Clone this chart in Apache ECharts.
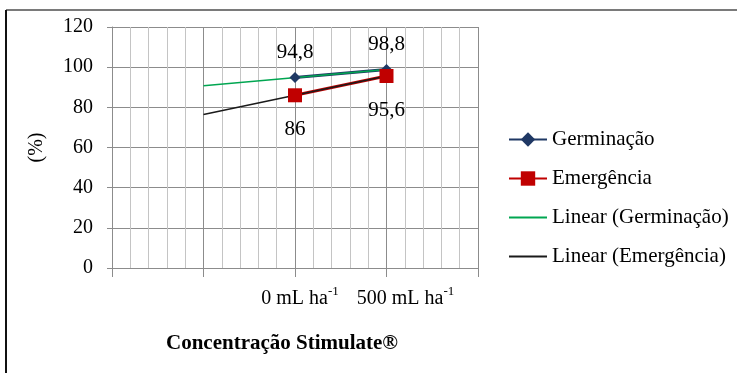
<!DOCTYPE html>
<html>
<head>
<meta charset="utf-8">
<script src="https://cdn.jsdelivr.net/npm/echarts@6/dist/echarts.min.js"></script>
<style>
html,body{margin:0;padding:0;background:#fff;}
#chart{width:737px;height:373px;}
</style>
</head>
<body>
<div id="chart"></div>
<script>
// ---- data ----
const xCategories = ['', '', '0 mL ha', '500 mL ha', ''];
const unitSup = '-1';
const yTicks = [0, 20, 40, 60, 80, 100, 120];
const dataPositions = [2, 3];
const germinacao = [94.8, 98.8];
const emergencia = [86, 95.6];
const trendPositions = [1, 3];
const trendGerminacao = [90.8, 98.8];
const trendEmergencia = [76.4, 95.6];
const seriesNames = ['Germinação', 'Emergência', 'Linear (Germinação)', 'Linear (Emergência)'];
const xTitle = 'Concentração Stimulate®';
const yTitle = '(%)';

const font = "'Liberation Serif', 'Times New Roman', serif";
const pair = (xs, ys) => xs.map((x, i) => [x, ys[i]]);
const fmt = v => String(v).replace('.', ',');

const chart = echarts.init(document.getElementById('chart'), null, {renderer: 'canvas'});
const labelPads = {2: 10, 3: 38};

chart.setOption({
  animation: false,
  backgroundColor: '#fff',
  textStyle: {fontFamily: font},
  grid: {left: 112, right: 259, top: 27, bottom: 105, containLabel: false},
  graphic: [
    {type: 'line', shape: {x1: 6, y1: 10, x2: 737, y2: 10}, style: {stroke: '#7a7a7a', lineWidth: 2}},
    {type: 'line', shape: {x1: 6, y1: 10, x2: 6, y2: 373}, style: {stroke: '#111', lineWidth: 2}}
  ],
  xAxis: {
    type: 'value', min: 0, max: xCategories.length - 1, interval: 1,
    name: xTitle, nameLocation: 'middle', nameGap: 65, nameMoveOverlap: false,
    nameTextStyle: {fontFamily: font, fontSize: 21, fontWeight: 'bold', color: '#000', padding: [0, 26, 0, 0]},
    axisLine: {show: true, lineStyle: {color: '#8c8c8c', width: 1}},
    axisTick: {show: true, length: 9, lineStyle: {color: '#8c8c8c'}},
    minorTick: {show: false, splitNumber: 5},
    splitLine: {show: true, lineStyle: {color: '#8c8c8c', width: 1}},
    minorSplitLine: {show: true, lineStyle: {color: '#c4c4c4', width: 1}},
    axisLabel: {
      margin: 17,
      formatter: v => {
        const c = xCategories[v];
        if (!c) return '';
        return '{pad' + v + '|}{m|' + c + '}{s|' + unitSup + '}';
      },
      rich: {
        m: {fontFamily: font, fontSize: 20, color: '#000', lineHeight: 24, verticalAlign: 'bottom'},
        s: {fontFamily: font, fontSize: 13, color: '#000', lineHeight: 24, verticalAlign: 'top'},
        pad2: {width: labelPads[2]},
        pad3: {width: labelPads[3]}
      }
    }
  },
  yAxis: {
    type: 'value', min: 0, max: 120, interval: 20,
    name: yTitle, nameLocation: 'middle', nameGap: 65, nameRotate: 90, nameMoveOverlap: false,
    nameTextStyle: {fontFamily: font, fontSize: 20, color: '#000'},
    axisLine: {show: true, lineStyle: {color: '#8c8c8c'}},
    axisTick: {show: true, length: 5, lineStyle: {color: '#8c8c8c'}},
    splitLine: {show: true, lineStyle: {color: '#8c8c8c', width: 1}},
    axisLabel: {margin: 19, fontFamily: font, fontSize: 20, color: '#000',
      formatter: v => yTicks.includes(v) ? String(v) : ''}
  },
  legend: {
    orient: 'vertical', left: 508, top: 129, padding: 0,
    itemWidth: 38, itemHeight: 18, itemGap: 18,
    textStyle: {fontFamily: font, fontSize: 21, color: '#000'},
    data: [
      {name: seriesNames[0]},
      {name: seriesNames[1]},
      {name: seriesNames[2], itemStyle: {opacity: 0}},
      {name: seriesNames[3], itemStyle: {opacity: 0}}
    ]
  },
  series: [
    {
      name: seriesNames[0], type: 'line', data: pair(dataPositions, germinacao),
      symbol: 'diamond', symbolSize: 11,
      lineStyle: {color: '#1f3864', width: 3},
      itemStyle: {color: '#1f3864'},
      label: {show: true, position: 'top', distance: 9, fontFamily: font, fontSize: 21, color: '#000',
        formatter: p => fmt(p.value[1])}
    },
    {
      name: seriesNames[1], type: 'line', data: pair(dataPositions, emergencia),
      symbol: 'rect', symbolSize: 14,
      lineStyle: {color: '#c00000', width: 3},
      itemStyle: {color: '#c00000'},
      label: {show: true, position: 'bottom', distance: 17, fontFamily: font, fontSize: 21, color: '#000',
        formatter: p => fmt(p.value[1])}
    },
    {
      name: seriesNames[2], type: 'line', data: pair(trendPositions, trendGerminacao),
      symbol: 'none', lineStyle: {color: '#00a651', width: 1.5}, itemStyle: {color: '#00a651'}
    },
    {
      name: seriesNames[3], type: 'line', data: pair(trendPositions, trendEmergencia),
      symbol: 'none', lineStyle: {color: '#1a1a1a', width: 1.5}, itemStyle: {color: '#1a1a1a'}
    }
  ]
});
</script>
</body>
</html>
